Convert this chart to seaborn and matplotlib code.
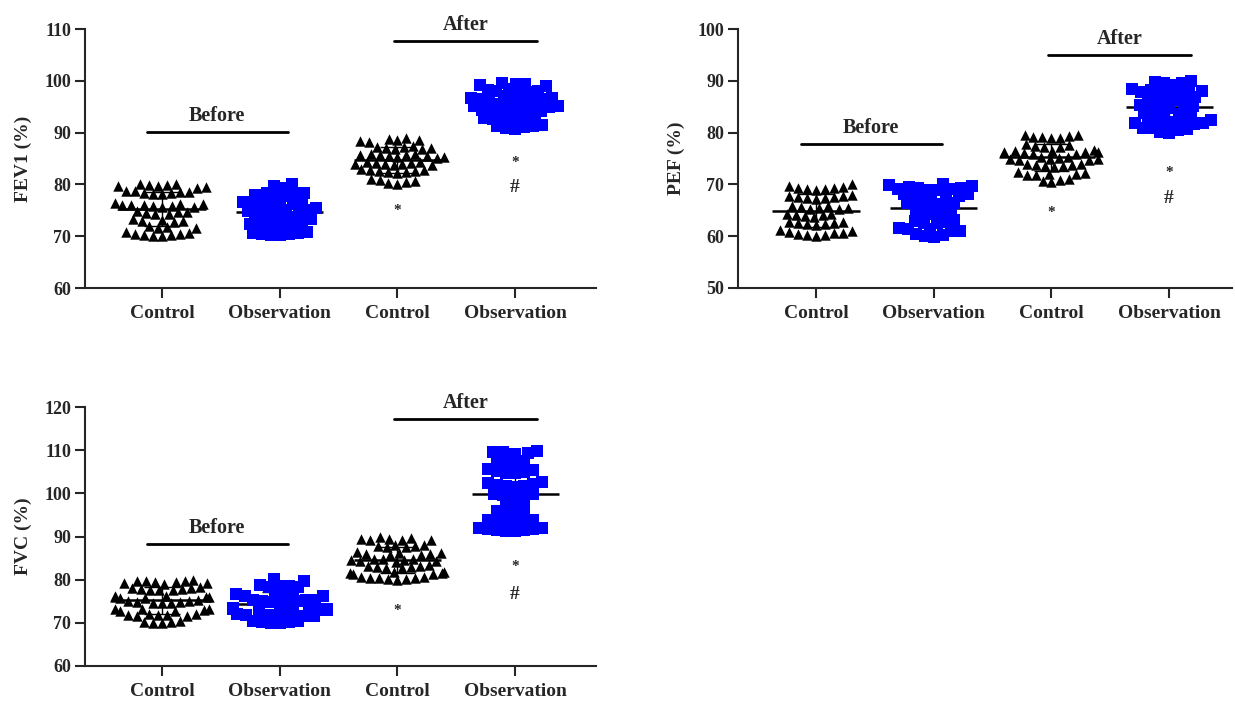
import numpy as np
import pandas as pd
import matplotlib
matplotlib.use('Agg')
import matplotlib.pyplot as plt
import seaborn as sns

# groups on the x axis
groups = ['Before Control', 'Before Observation', 'After Control', 'After Observation']
tick_labels = ['Control', 'Observation', 'Control', 'Observation']

# FEV1 (%) values
fev1_before_ctrl = [79.6, 80.0, 79.8, 79.5, 80.1, 79.7, 79.9, 79.4,
                    78.2, 78.6, 78.4, 78.8, 78.1, 78.5, 78.3, 78.7,
                    75.8, 76.2, 76.0, 76.4, 75.6, 76.1, 75.9, 76.3, 75.7, 76.0,
                    74.3, 74.7, 74.5, 74.9, 74.2, 74.6,
                    72.8, 73.2, 73.0, 73.4, 72.9,
                    71.6, 72.0, 71.8, 71.5,
                    70.0, 70.3, 70.6, 70.2, 70.8, 70.4, 70.1, 70.5]
fev1_before_obs = [79.7, 80.0, 79.4,
                   78.0, 78.3, 77.8, 78.1, 77.7, 78.4,
                   76.5, 76.8, 76.3, 76.6, 76.2, 76.9, 76.4,
                   75.0, 75.3, 74.8, 75.1, 74.9, 75.4, 75.2, 74.7,
                   73.5, 73.8, 73.3, 73.6, 73.2, 73.7, 73.4,
                   72.0, 72.3, 71.8, 72.1, 71.9, 72.2,
                   70.5, 70.8, 70.3, 70.6, 70.2, 70.7, 70.4]
fev1_after_ctrl = [88.5, 88.8, 88.3, 88.6, 88.2, 88.9,
                   87.0, 87.3, 86.8, 87.1, 86.9, 87.2, 87.4,
                   85.5, 85.8, 85.3, 85.6, 85.2, 85.7, 85.4, 85.9, 85.1, 85.6,
                   84.0, 84.3, 83.8, 84.1, 83.9, 84.2, 84.4, 83.7, 84.0,
                   82.5, 82.8, 82.3, 82.6, 82.2, 82.7, 82.4, 82.9,
                   80.5, 80.8, 80.2, 80.6, 80.0, 81.0]
fev1_after_obs = [99.2, 99.5, 99.0, 99.4, 99.3,
                  98.0, 98.3, 97.8, 98.1, 98.4, 97.9,
                  96.6, 96.9, 96.4, 96.7, 96.3, 97.0, 96.5,
                  95.3, 95.6, 95.1, 95.4, 95.5, 95.2, 95.7, 95.0,
                  94.0, 94.3, 93.8, 94.1, 94.4, 93.9, 94.2,
                  92.6, 92.9, 92.4, 92.7, 92.3, 92.8,
                  91.0, 91.3, 90.8, 91.2, 90.6, 91.5]

# PEF (%)
pef_before_ctrl = [69.2, 69.5, 69.0, 69.7, 69.3, 70.0, 69.1, 69.4,
                   67.5, 67.8, 67.3, 67.6, 67.2, 67.9, 67.4, 67.7,
                   65.5, 65.8, 65.3, 65.6, 65.2, 65.9, 65.4,
                   64.0, 64.3, 63.8, 64.1, 63.9, 64.2,
                   62.5, 62.8, 62.3, 62.6, 62.2, 62.7, 62.4,
                   60.5, 60.8, 60.2, 60.6, 60.0, 61.0, 60.3, 60.7, 61.2]
pef_before_obs = [69.3, 69.6, 69.1, 69.4, 69.8, 69.0, 69.5, 70.0, 69.2, 68.9,
                  67.8, 68.1, 67.6, 67.9, 67.5, 68.2, 67.7,
                  66.2, 66.5, 66.0, 66.3, 65.9, 66.4,
                  64.5, 64.8, 64.3, 64.6, 64.2,
                  62.8, 63.1, 62.6, 62.9, 62.5,
                  61.3, 61.6, 61.1, 61.4, 61.0,
                  60.2, 60.0, 60.4, 59.9]
pef_after_ctrl = [79.2, 79.5, 79.0, 79.3, 78.9, 79.6, 79.1,
                  77.5, 77.8, 77.3, 77.6, 77.2,
                  76.2, 76.5, 76.0, 76.3, 75.9, 76.4, 76.1, 76.6, 75.8, 76.2,
                  75.0, 75.3, 74.8, 75.1, 74.9, 75.2, 74.7, 75.0,
                  73.7, 74.0, 73.5, 73.8, 73.4, 73.9, 73.6,
                  72.0, 72.3, 71.8, 72.1, 71.9, 72.2,
                  70.7, 71.0, 70.4, 70.8]
pef_after_obs = [89.5, 89.8, 89.2, 89.6, 90.0,
                 88.0, 88.3, 87.8, 88.1, 87.7, 88.4, 87.9, 88.2,
                 86.5, 86.8, 86.3, 86.6, 86.2, 86.9,
                 85.0, 85.3, 84.8, 85.1, 84.7, 85.2,
                 83.5, 83.8, 83.3, 83.6, 83.2,
                 82.0, 82.3, 81.8, 82.1, 81.7, 82.4, 81.9, 82.2, 81.6,
                 80.5, 80.8, 80.2, 80.6, 80.0, 80.9]

# FVC (%)
fvc_before_ctrl = [79.4, 79.7, 79.2, 79.5, 79.1, 79.8, 79.3, 80.0, 79.6,
                   77.8, 78.1, 77.6, 77.9, 77.5, 78.2, 77.7, 78.0,
                   76.0, 76.3, 75.8, 76.1, 75.7, 76.2, 75.9,
                   74.8, 75.1, 74.6, 74.9, 74.5, 75.0, 74.7, 75.2,
                   73.0, 73.3, 72.8, 73.1, 72.7, 73.2,
                   71.8, 72.1, 71.6, 71.9, 71.5, 72.0, 71.7,
                   70.1, 70.4, 69.9, 70.2, 70.0]
fvc_before_obs = [79.8, 80.1,
                  78.5, 78.8, 78.3, 78.6, 78.2,
                  76.5, 76.8, 76.3, 76.6, 76.2, 76.7,
                  75.0, 75.3, 74.8, 75.1, 74.7, 75.2, 74.9, 75.4,
                  73.0, 73.3, 72.8, 73.1, 72.7, 73.2, 72.9, 73.4,
                  71.8, 72.1, 71.6, 71.9, 71.5, 72.0, 71.7,
                  70.2, 70.5, 70.0, 70.3, 69.9, 70.4]
fvc_after_ctrl = [89.4, 89.7, 89.2, 89.5, 89.1, 89.8, 89.3,
                  87.8, 88.1, 87.6, 87.9, 87.5, 88.0,
                  86.0, 86.3, 85.8, 86.1, 85.7, 86.2, 85.9,
                  84.5, 84.8, 84.3, 84.6, 84.2, 84.7, 84.4, 84.9,
                  83.0, 83.3, 82.8, 83.1, 82.7, 83.2, 82.9,
                  81.5, 81.8, 81.3, 81.6, 81.2, 81.7,
                  80.3, 80.6, 80.0, 80.4, 80.1, 80.7, 80.2, 80.5]
fvc_after_obs = [109.5, 109.8, 109.2, 109.6, 109.3,
                 107.5, 107.8, 107.2, 107.6,
                 105.0, 105.4, 104.6, 105.2, 104.8, 105.6,
                 102.0, 102.4, 101.6, 102.2, 101.8, 102.6, 101.4,
                 99.5, 99.8, 99.2, 99.6, 99.9,
                 97.5, 97.8, 97.2,
                 95.5, 95.8, 95.2, 95.6,
                 93.5, 93.8, 93.2, 93.6, 93.3, 93.9,
                 91.6, 91.9, 91.3, 91.7, 91.2, 92.0, 91.5, 91.8]

panels = [
    {'label': 'FEV1 (%)', 'data': [fev1_before_ctrl, fev1_before_obs, fev1_after_ctrl, fev1_after_obs],
     'ylim': (60, 110), 'box': [85, 29, 596, 288], 'xlim_px': (162, 117.7),
     'before_y': 90.1, 'after_y': 107.7, 'star_ctrl': 75.0, 'star_obs': 84.3, 'hash_obs': 79.4},
    {'label': 'PEF (%)', 'data': [pef_before_ctrl, pef_before_obs, pef_after_ctrl, pef_after_obs],
     'ylim': (50, 100), 'box': [738, 29, 1232, 288], 'xlim_px': (816, 117.7),
     'before_y': 77.8, 'after_y': 95.0, 'star_ctrl': 64.6, 'star_obs': 72.3, 'hash_obs': 67.3},
    {'label': 'FVC (%)', 'data': [fvc_before_ctrl, fvc_before_obs, fvc_after_ctrl, fvc_after_obs],
     'ylim': (60, 120), 'box': [85, 407, 596, 666], 'xlim_px': (162, 117.7),
     'before_y': 88.3, 'after_y': 117.2, 'star_ctrl': 72.9, 'star_obs': 83.0, 'hash_obs': 76.6},
]

sns.set_style('ticks')
plt.rcParams['font.family'] = ['Liberation Serif', 'DejaVu Serif']
plt.rcParams['font.weight'] = 'bold'

W, H = 1235, 702
fig = plt.figure(figsize=(W / 100, H / 100), dpi=100)

swarm_size = 6.2          # packing size used for the swarm layout
shown = []                # (collection, size actually drawn)

for p in panels:
    l, t, r, b = p['box']
    ax = fig.add_axes([l / W, 1 - b / H, (r - l) / W, (b - t) / H])

    vals = p['data']
    df = pd.DataFrame({'group': np.repeat(groups, [len(v) for v in vals]),
                       'value': np.concatenate(vals)})
    ctrl = df[df['group'].str.endswith('Control')]
    obs = df[df['group'].str.endswith('Observation')]

    # mean +/- SD behind the points
    for i, v in enumerate(vals):
        m, sd = np.mean(v), np.std(v, ddof=1)
        ax.hlines(m, i - 0.37, i + 0.37, color='black', lw=1.8, zorder=0.5)
        ax.vlines(i, m - sd, m + sd, color='black', lw=1, zorder=0.5)
        ax.hlines([m - sd, m + sd], i - 0.15, i + 0.15, color='black', lw=1, zorder=0.5)

    n0 = len(ax.collections)
    sns.swarmplot(data=ctrl, x='group', y='value', order=groups, color='black',
                  marker='^', size=swarm_size, linewidth=0, ax=ax)
    n1 = len(ax.collections)
    sns.swarmplot(data=obs, x='group', y='value', order=groups, color='#0000ff',
                  marker='s', size=swarm_size, linewidth=0, ax=ax)
    n2 = len(ax.collections)
    shown += [(c, 7.5) for c in ax.collections[n0:n1]]
    shown += [(c, 8.3) for c in ax.collections[n1:n2]]

    x0, step = p['xlim_px']
    ax.set_xlim((l - x0) / step, (r - x0) / step)
    ax.set_ylim(*p['ylim'])
    ax.set_yticks(np.arange(p['ylim'][0], p['ylim'][1] + 1, 10))
    ax.set_xticks(range(4))
    ax.set_xticklabels(tick_labels, fontsize=14, fontweight='bold')
    ax.tick_params(axis='x', length=7, width=1.5, pad=5)
    ax.tick_params(axis='y', length=7, width=1.5, pad=3, labelsize=13)
    ax.set_xlabel('')
    ax.set_ylabel(p['label'], fontsize=14, fontweight='bold')
    ax.yaxis.set_label_coords(-53 / (r - l), 0.5)
    sns.despine(ax=ax)
    for s in ['left', 'bottom']:
        ax.spines[s].set_linewidth(1.5)

    span = p['ylim'][1] - p['ylim'][0]
    ax.plot([-0.13, 1.07], [p['before_y']] * 2, color='black', lw=2, clip_on=False)
    ax.text(0.47, p['before_y'] + span * 0.022, 'Before', ha='center', va='bottom', fontsize=14.5)
    ax.plot([1.97, 3.19], [p['after_y']] * 2, color='black', lw=2, clip_on=False)
    ax.text(2.58, p['after_y'] + span * 0.022, 'After', ha='center', va='bottom', fontsize=14.5,
            clip_on=False)

    ax.text(2, p['star_ctrl'], '*', ha='center', va='center', fontsize=11)
    ax.text(3, p['star_obs'], '*', ha='center', va='center', fontsize=11)
    ax.text(3, p['hash_obs'], '#', ha='center', va='center', fontsize=14)

# lay the swarms out once at the packing size, then freeze and enlarge the markers
fig.canvas.draw()
for c, sz in shown:
    if 'draw' in c.__dict__:
        del c.draw
    c.set_sizes([sz ** 2])

plt.savefig('out.png', dpi=100)
